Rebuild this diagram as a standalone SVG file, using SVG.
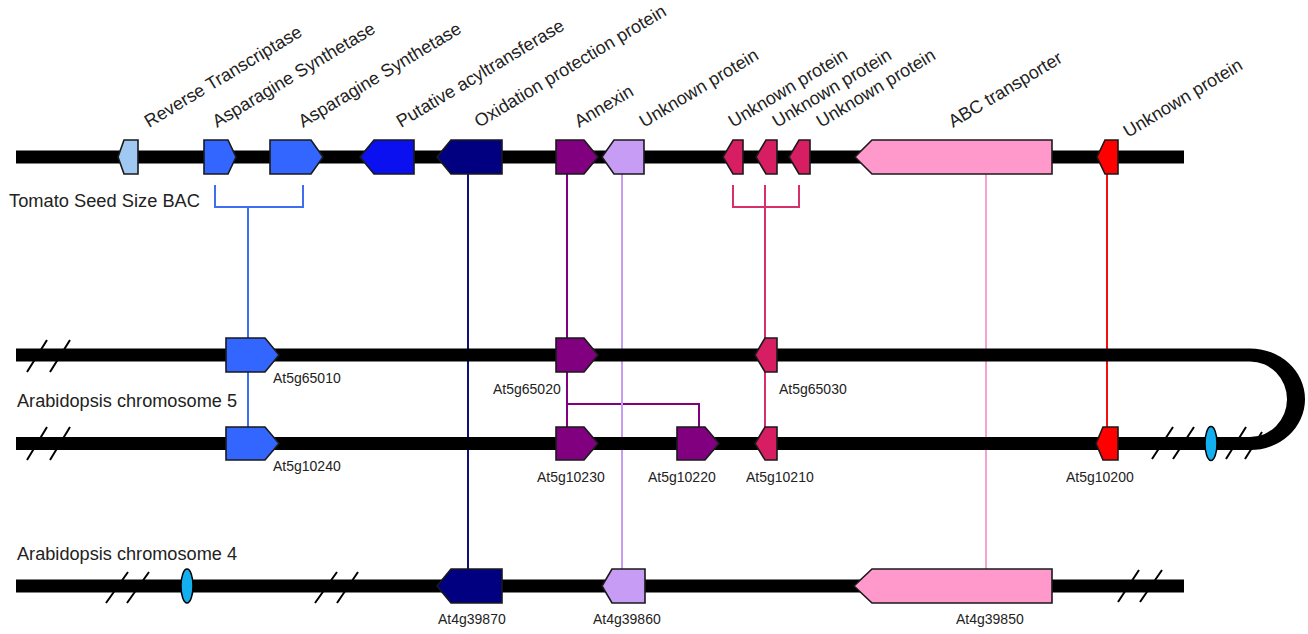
<svg xmlns="http://www.w3.org/2000/svg" width="1308" height="634" viewBox="0 0 1308 634">
<style>
text{font-family:"Liberation Sans",Arial,sans-serif;fill:#222}
.lbl{font-size:18px}
.glbl{font-size:14px}
.chr{font-size:17.5px}
.bar{fill:#000}
.gene{stroke:#1a1a1a;stroke-width:1.6;stroke-linejoin:miter}
.con{fill:none;stroke-width:2}
.hash{stroke:#000;stroke-width:2;fill:none}
.cen{fill:#12b0ee;stroke:#000;stroke-width:1.5}
</style>
<rect width="1308" height="634" fill="#fff"/>
<g id="connectors">
<path class="con" stroke="#3f6ff0" d="M215,185 V207 H303 V185 M248,207 V338 M248,372 V427"/>
<path class="con" stroke="#10107a" d="M468,174 V569"/>
<path class="con" stroke="#800080" d="M567,174 V338 M567,372 V427 M567,404 H699 V427"/>
<path class="con" stroke="#c79cf5" d="M622,174 V569"/>
<path class="con" stroke="#d82f6c" d="M733,185 V207 H799 V185 M765,185 V338 M765,372 V427"/>
<path class="con" stroke="#f7a3cf" d="M986,174 V569"/>
<path class="con" stroke="#f01010" d="M1107,174 V427"/>
</g>
<g id="tomato-bac">
<rect class="bar" x="16" y="150.5" width="1168" height="13"/>
<text class="chr" x="9" y="207" textLength="191" lengthAdjust="spacingAndGlyphs">Tomato Seed Size BAC</text>
</g>
<g id="chr5">
<rect class="bar" x="16" y="348.5" width="1234" height="13"/>
<rect class="bar" x="16" y="437" width="1234" height="13"/>
<path class="bar" d="M1250,348.5 A55,50.75 0 0 1 1250,450 L1250,437 A37,37.75 0 0 0 1250,361.5 Z"/>
<path class="hash" d="M27,372 L47,340 M50,372 L70,340 M27,460 L47,427 M50,460 L70,427 M1152,459 L1173,427 M1173,459 L1194,427 M1226,459 L1246,427 M1245,459 L1262,432"/>
<ellipse class="cen" cx="1211" cy="443.5" rx="6" ry="17"/>
<text class="chr" x="17" y="407" textLength="220" lengthAdjust="spacingAndGlyphs">Arabidopsis chromosome 5</text>
</g>
<g id="chr4">
<rect class="bar" x="16" y="579.5" width="1168" height="13"/>
<path class="hash" d="M106,603 L128,572 M127,603 L149,572 M315,603 L337,572 M337,603 L358,572 M1118,602 L1139,570 M1140,602 L1162,570"/>
<ellipse class="cen" cx="187" cy="586" rx="6" ry="17"/>
<text class="chr" x="17" y="560" textLength="220" lengthAdjust="spacingAndGlyphs">Arabidopsis chromosome 4</text>
</g>
<g id="g-reverse-transcriptase">
<polygon class="gene" fill="#9fc8f2" points="124,140 138,140 138,174 124,174 118,157"/>
<text class="lbl" transform="translate(149,128) rotate(-31)">Reverse Transcriptase</text>
</g>
<g id="g-asparagine-synthetase-1">
<polygon class="gene" fill="#3366ff" points="204,140 228,140 236,157 228,174 204,174"/>
<text class="lbl" transform="translate(217,128) rotate(-31)">Asparagine Synthetase</text>
</g>
<g id="g-asparagine-synthetase-2">
<polygon class="gene" fill="#3366ff" points="270,140 311,140 323,157 311,174 270,174"/>
<text class="lbl" transform="translate(303,128) rotate(-31)">Asparagine Synthetase</text>
</g>
<g id="g-putative-acyltransferase">
<polygon class="gene" fill="#0a10f0" points="374,140 414,140 414,174 374,174 360,157"/>
<text class="lbl" transform="translate(401,128) rotate(-31)">Putative acyltransferase</text>
</g>
<g id="g-oxidation-protection">
<polygon class="gene" fill="#000080" points="451,140 502,140 502,174 451,174 437,157"/>
<text class="lbl" transform="translate(479,128) rotate(-31)">Oxidation protection protein</text>
</g>
<g id="g-annexin">
<polygon class="gene" fill="#800080" points="556,140 584,140 598,157 584,174 556,174"/>
<text class="lbl" transform="translate(579,128) rotate(-31)">Annexin</text>
</g>
<g id="g-unknown-1">
<polygon class="gene" fill="#c79cf5" points="614,140 644,140 644,174 614,174 602,157"/>
<text class="lbl" transform="translate(644,128) rotate(-31)">Unknown protein</text>
</g>
<g id="g-unknown-2">
<polygon class="gene" fill="#d81e63" points="733,140 743,140 743,174 733,174 723,157"/>
<text class="lbl" transform="translate(733,128) rotate(-31)">Unknown protein</text>
</g>
<g id="g-unknown-3">
<polygon class="gene" fill="#d81e63" points="766,140 777,140 777,174 766,174 756,157"/>
<text class="lbl" transform="translate(777,128) rotate(-31)">Unknown protein</text>
</g>
<g id="g-unknown-4">
<polygon class="gene" fill="#d81e63" points="799,140 810,140 810,174 799,174 789,157"/>
<text class="lbl" transform="translate(821,128) rotate(-31)">Unknown protein</text>
</g>
<g id="g-abc-transporter">
<polygon class="gene" fill="#ff99cc" points="872,140 1052,140 1052,174 872,174 855,157"/>
<text class="lbl" transform="translate(953,128) rotate(-31)">ABC transporter</text>
</g>
<g id="g-unknown-5">
<polygon class="gene" fill="#ff0000" points="1105,140 1118,140 1118,174 1105,174 1097,157"/>
<text class="lbl" transform="translate(1128,138) rotate(-31)">Unknown protein</text>
</g>
<g id="At5g65010">
<polygon class="gene" fill="#3366ff" points="226,338 265,338 279,355 265,372 226,372"/>
<text class="glbl" x="273" y="383">At5g65010</text>
</g>
<g id="At5g65020">
<polygon class="gene" fill="#800080" points="556,338 584,338 598,355 584,372 556,372"/>
<text class="glbl" x="493" y="394">At5g65020</text>
</g>
<g id="At5g65030">
<polygon class="gene" fill="#d81e63" points="765,338 777,338 777,372 765,372 755,355"/>
<text class="glbl" x="779" y="394">At5g65030</text>
</g>
<g id="At5g10240">
<polygon class="gene" fill="#3366ff" points="226,427 265,427 279,443.5 265,460 226,460"/>
<text class="glbl" x="273" y="471">At5g10240</text>
</g>
<g id="At5g10230">
<polygon class="gene" fill="#800080" points="556,427 584,427 598,443.5 584,460 556,460"/>
<text class="glbl" x="537" y="482">At5g10230</text>
</g>
<g id="At5g10220">
<polygon class="gene" fill="#800080" points="677,427 705,427 719,443.5 705,460 677,460"/>
<text class="glbl" x="648" y="482">At5g10220</text>
</g>
<g id="At5g10210">
<polygon class="gene" fill="#d81e63" points="765,427 777,427 777,460 765,460 755,443.5"/>
<text class="glbl" x="746" y="482">At5g10210</text>
</g>
<g id="At5g10200">
<polygon class="gene" fill="#ff0000" points="1103,427 1118,427 1118,460 1103,460 1096,443.5"/>
<text class="glbl" x="1066" y="482">At5g10200</text>
</g>
<g id="At4g39870">
<polygon class="gene" fill="#000080" points="451,569 502,569 502,603 451,603 437,586"/>
<text class="glbl" x="438" y="624">At4g39870</text>
</g>
<g id="At4g39860">
<polygon class="gene" fill="#c79cf5" points="612,569 645,569 645,603 612,603 602,586"/>
<text class="glbl" x="593" y="624">At4g39860</text>
</g>
<g id="At4g39850">
<polygon class="gene" fill="#ff99cc" points="872,569 1052,569 1052,603 872,603 854,586"/>
<text class="glbl" x="956" y="624">At4g39850</text>
</g>
</svg>
